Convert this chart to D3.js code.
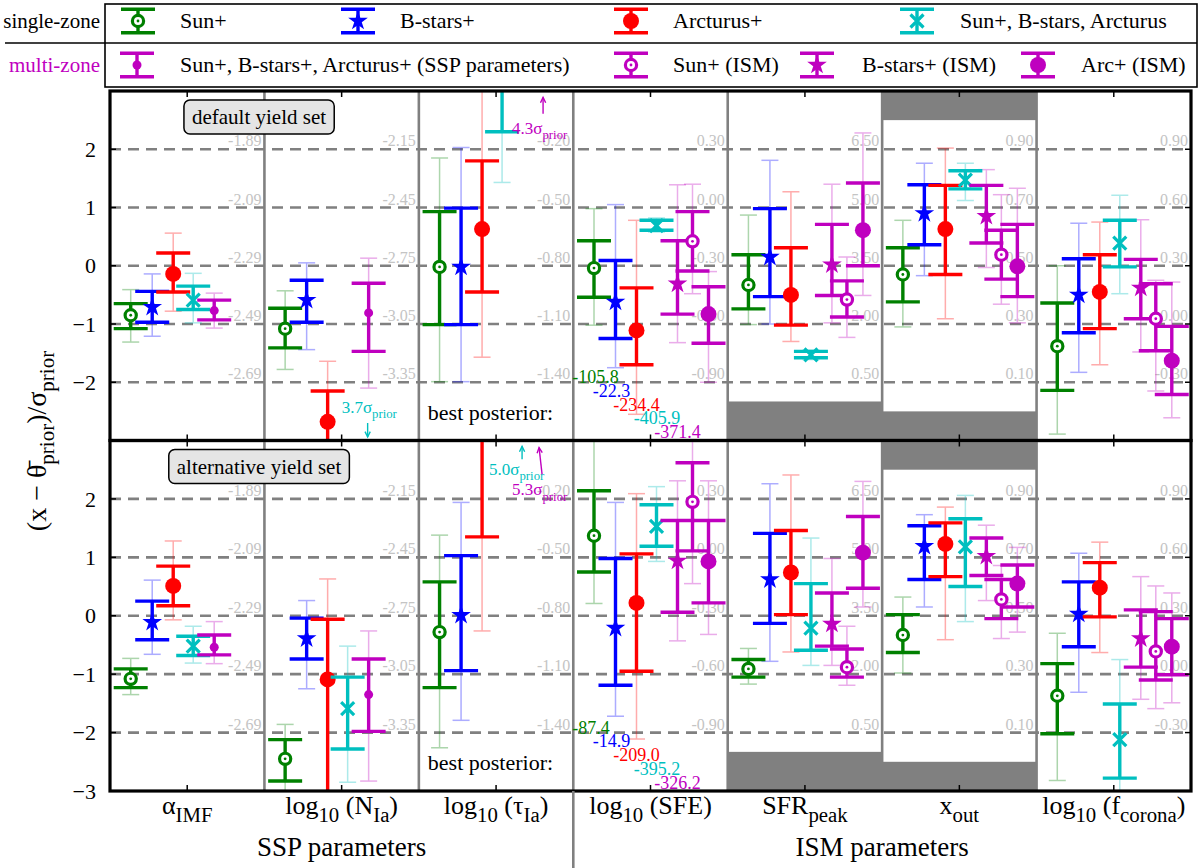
<!DOCTYPE html>
<html>
<head>
<meta charset="utf-8">
<script src="https://cdn.jsdelivr.net/npm/d3@7"></script>
<style>
  body { margin: 0; background: #fff; }
  svg, text { font-family: "Liberation Serif", "DejaVu Serif", serif; }
</style>
</head>
<body>
<script>
/* global d3 */

// Data

const params = ['alphaIMF', 'logNIa', 'logTauIa', 'logSFE', 'SFRpeak', 'xout', 'logFcorona'];

// tick labels: plain strings, [sub] arrays are subscripts
const paramLabels = [
  ['α', ['IMF']],
  ['log', ['10'], ' (N', ['Ia'], ')'],
  ['log', ['10'], ' (τ', ['Ia'], ')'],
  ['log', ['10'], ' (SFE)'],
  ['SFR', ['peak']],
  ['x', ['out']],
  ['log', ['10'], ' (f', ['corona'], ')']
];

const groupLabels = ['SSP parameters', 'ISM parameters'];
const groupStart = [0, 3];

// secondary (physical) values printed at the dashed lines 2, 1, 0, -1, -2
const gridValues = [2, 1, 0, -1, -2];
const physLabels = [
  ['-1.89', '-2.09', '-2.29', '-2.49', '-2.69'],
  ['-2.15', '-2.45', '-2.75', '-3.05', '-3.35'],
  ['-0.20', '-0.50', '-0.80', '-1.10', '-1.40'],
  ['0.30', '0.00', '-0.30', '-0.60', '-0.90'],
  ['6.50', '5.00', '3.50', '2.00', '0.50'],
  ['0.90', '0.70', '0.50', '0.30', '0.10'],
  ['0.90', '0.60', '0.30', '0.00', '-0.30']
];

// prior bounds (shaded), in units of sigma_prior
const priorBounds = [
  { param: 'SFRpeak', lo: -2.33, hi: null },
  { param: 'xout', lo: -2.5, hi: 2.5 }
];

// each entry: [median, lo68, hi68, lo95, hi95], null = not fitted / off scale
// default yield set
const sunTop = [
  [-0.85, -1.08, -0.65, -1.31, -0.41],
  [-1.08, -1.41, -0.73, -1.78, -0.43],
  [-0.02, -1.01, 0.93, -1.99, 1.85],
  [-0.04, -0.54, 0.43, -1.02, 0.98],
  [-0.33, -0.74, 0.19, -1.01, 0.87],
  [-0.15, -0.62, 0.31, -1.05, 0.78],
  [-1.38, -2.14, -0.64, -2.89, 0.00]
];
const bstarsTop = [
  [-0.71, -0.97, -0.44, -1.21, -0.14],
  [-0.59, -0.97, -0.25, -1.44, 0.05],
  [-0.02, -1.01, 0.99, -1.99, 2.03],
  [-0.62, -1.25, 0.09, -1.75, 1.05],
  [0.15, -0.53, 0.98, -1.00, 1.81],
  [0.90, 0.36, 1.39, -0.17, 1.76],
  [-0.50, -1.15, 0.12, -1.83, 0.73]
];
const arcTop = [
  [-0.14, -0.45, 0.22, -0.78, 0.56],
  [-2.68, -3.40, -2.15, -4.00, -1.64],
  [0.63, -0.45, 1.80, -1.57, 3.30],
  [-1.11, -1.70, -0.38, -2.55, 0.78],
  [-0.50, -1.02, 0.31, -1.30, 1.27],
  [0.63, -0.15, 1.38, -0.91, 2.02],
  [-0.45, -1.08, 0.19, -1.70, 0.75]
];
const comboTop = [
  [-0.59, -0.75, -0.35, -0.98, -0.13],
  null,
  [3.20, 2.30, 4.10, 1.43, 5.00],
  [0.69, 0.61, 0.78, 0.58, 0.82],
  [-1.53, -1.58, -1.47, -1.61, -1.45],
  [1.47, 1.32, 1.63, 1.12, 1.76],
  [0.39, -0.02, 0.78, -0.48, 1.21]
];
const sspMultiTop = [
  [-0.77, -0.93, -0.59, -1.07, -0.47],
  [-0.81, -1.47, -0.30, -2.10, 0.13],
  null, null, null, null, null
];
const sunIsmTop = [
  null, null, null,
  [0.42, -0.09, 0.93, -0.48, 1.40],
  [-0.58, -0.88, -0.26, -1.23, 0.15],
  [0.19, -0.23, 0.61, -0.66, 1.22],
  [-0.91, -1.46, -0.31, -2.15, -0.25]
];
const bstarsIsmTop = [
  null, null, null,
  [-0.31, -0.83, 0.43, -1.32, 1.39],
  [0.02, -0.51, 0.71, -0.98, 1.40],
  [0.85, 0.39, 1.38, -0.03, 1.65],
  [-0.38, -0.91, 0.11, -1.48, 0.79]
];
const arcIsmTop = [
  null, null, null,
  [-0.83, -1.33, -0.36, -2.00, -0.10],
  [0.61, 0.00, 1.42, -0.51, 2.28],
  [-0.01, -0.53, 0.71, -0.98, 1.33],
  [-1.63, -2.21, -1.04, -2.61, -0.28]
];

// alternative yield set
const sunBot = [
  [-1.08, -1.23, -0.91, -1.35, -0.73],
  [-2.45, -2.83, -2.12, -3.20, -1.86],
  [-0.28, -1.23, 0.58, -2.26, 1.38],
  [1.37, 0.75, 2.14, 0.21, 3.00],
  [-0.91, -1.05, -0.75, -1.17, -0.56],
  [-0.33, -0.63, 0.02, -0.98, 0.32],
  [-1.37, -2.02, -0.82, -2.82, -0.30]
];
const bstarsBot = [
  [-0.11, -0.41, 0.25, -0.66, 0.61],
  [-0.39, -0.74, -0.04, -1.25, 0.26],
  [0.01, -0.94, 1.03, -1.79, 1.94],
  [-0.21, -1.19, 0.98, -1.72, 1.94],
  [0.62, -0.13, 1.41, -0.78, 2.26],
  [1.19, 0.62, 1.54, 0.15, 1.73],
  [0.03, -0.53, 0.58, -1.31, 1.07]
];
const arcBot = [
  [0.51, 0.17, 0.85, -0.07, 1.28],
  [-1.09, -3.50, -0.06, -4.50, 0.63],
  [3.40, 1.35, 5.50, -0.26, 7.00],
  [0.22, -0.95, 1.06, -2.11, 2.09],
  [0.74, 0.02, 1.46, -0.62, 2.41],
  [1.23, 0.67, 1.59, -0.41, 1.86],
  [0.48, -0.02, 0.91, -0.63, 1.26]
];
const comboBot = [
  [-0.52, -0.68, -0.35, -0.81, -0.18],
  [-1.59, -2.28, -1.05, -2.85, -0.52],
  null,
  [1.53, 1.19, 1.90, 0.93, 2.21],
  [-0.21, -0.59, 0.55, -0.85, 1.33],
  [1.18, 0.50, 1.66, -0.10, 2.06],
  [-2.12, -2.78, -1.51, -3.30, -0.75]
];
const sspMultiBot = [
  [-0.54, -0.67, -0.33, -0.82, -0.10],
  [-1.35, -1.98, -0.74, -2.83, -0.26],
  null, null, null, null, null
];
const sunIsmBot = [
  null, null, null,
  [1.95, 1.11, 2.62, 0.55, 3.10],
  [-0.88, -1.05, -0.57, -1.19, -0.18],
  [0.28, -0.05, 0.62, -0.39, 0.86],
  [-0.61, -1.10, 0.07, -1.59, 0.51]
];
const bstarsIsmBot = [
  null, null, null,
  [0.94, 0.06, 1.63, -0.43, 2.31],
  [-0.14, -0.52, 0.39, -0.85, 0.98],
  [1.02, 0.69, 1.33, 0.26, 1.55],
  [-0.39, -0.88, 0.10, -1.43, 0.67]
];
const arcIsmBot = [
  null, null, null,
  [0.93, 0.22, 1.63, -0.32, 2.31],
  [1.08, 0.47, 1.70, 0.15, 2.30],
  [0.55, 0.15, 0.87, -0.28, 1.17],
  [-0.53, -1.01, -0.05, -1.49, 0.39]
];

// best posterior values (log), in the order sun, B-stars, Arcturus, all three, multi-zone
const bestPosteriorTop = ['-105.8', '-22.3', '-234.4', '-405.9', '-371.4'];
const bestPosteriorBot = ['-87.4', '-14.9', '-209.0', '-395.2', '-326.2'];
const bestPosteriorSeries = ['sun', 'bstars', 'arc', 'combo', 'sspMulti'];

// off-scale medians
const offScaleTop = [
  { param: 'logNIa', series: 'combo', label: '3.7' },
  { param: 'logTauIa', series: 'sspMulti', label: '4.3' }
];
const offScaleBot = [
  { param: 'logTauIa', series: 'combo', label: '5.0' },
  { param: 'logTauIa', series: 'sspMulti', label: '5.3' }
];

const panelTitles = ['default yield set', 'alternative yield set'];

// Constants

const width = 1200;
const height = 868;
const left = 110;
const right = 1191;
const panels = [{ top: 91, bottom: 440.5 }, { top: 440.5, bottom: 791 }];

const colors = {
  green: '#008000', blue: '#0000ff', red: '#ff0000', cyan: '#00bfbf', magenta: '#bf00bf'
};

// series styling and offset (px) from the column centre
const series = [
  { key: 'sun', color: colors.green, marker: 'sun', offset: -56.5, values: [sunTop, sunBot] },
  { key: 'bstars', color: colors.blue, marker: 'star', offset: -35, values: [bstarsTop, bstarsBot] },
  { key: 'arc', color: colors.red, marker: 'bigdot', offset: -14, values: [arcTop, arcBot] },
  { key: 'combo', color: colors.cyan, marker: 'x', offset: 6, values: [comboTop, comboBot] },
  { key: 'sspMulti', color: colors.magenta, marker: 'smalldot', offset: 27, values: [sspMultiTop, sspMultiBot] },
  { key: 'bstarsIsm', color: colors.magenta, marker: 'star', offset: 27, values: [bstarsIsmTop, bstarsIsmBot] },
  { key: 'sunIsm', color: colors.magenta, marker: 'sun', offset: 42, values: [sunIsmTop, sunIsmBot] },
  { key: 'arcIsm', color: colors.magenta, marker: 'bigdot', offset: 58, values: [arcIsmTop, arcIsmBot] }
];
const seriesByKey = {};
series.forEach(s => { seriesByKey[s.key] = s; });

// legend rows: entries and their x positions (marker, text)
const legendRows = [
  { label: 'single-zone', color: '#000', y: 21, items: [
    { key: 'sun', text: 'Sun+', mx: 138, tx: 180 },
    { key: 'bstars', text: 'B-stars+', mx: 358, tx: 400 },
    { key: 'arc', text: 'Arcturus+', mx: 631, tx: 673 },
    { key: 'combo', text: 'Sun+, B-stars, Arcturus', mx: 917, tx: 960 }
  ] },
  { label: 'multi-zone', color: colors.magenta, y: 65, items: [
    { key: 'sspMulti', text: 'Sun+, B-stars+, Arcturus+ (SSP parameters)', mx: 137, tx: 180 },
    { key: 'sunIsm', text: 'Sun+ (ISM)', mx: 631, tx: 673 },
    { key: 'bstarsIsm', text: 'B-stars+ (ISM)', mx: 817, tx: 862 },
    { key: 'arcIsm', text: 'Arc+ (ISM)', mx: 1038, tx: 1081 }
  ] }
];

// placement of the off-scale notes: text offset, text y, arrow x, arrow y range (sigma units)
const offScaleLayout = [
  [{ tx: 0, ty: -2.52, ax0: 26, ax1: 26, ay0: -2.70, ay1: -2.94 },
   { tx: 16, ty: 2.27, ax0: 47, ax1: 47, ay0: 2.61, ay1: 2.89 }],
  [{ tx: -7, ty: 2.41, ax0: 26, ax1: 26, ay0: 2.68, ay1: 2.90 },
   { tx: 16, ty: 2.06, ax0: 46, ax1: 43, ay0: 2.42, ay1: 2.88 }]
];

// SVG setup
const svg = d3.select('body')
.append('svg')
.attr('width', width)
.attr('height', height)
.attr('font-family', '"Liberation Serif", "DejaVu Serif", serif');

const xScale = d3.scaleBand()
.domain(params)
.range([left, right]);
const bw = xScale.bandwidth();
const colCenter = p => xScale(p) + bw / 2;

// text with subscripts, parts: 'plain' or ['sub']
function richText(sel, parts, size, subScale) {
  const shift = size * 0.3;
  let down = false;
  parts.forEach(part => {
    const sub = Array.isArray(part);
    const t = sel.append('tspan').text(sub ? part[0] : part);
    if (sub) {
      t.attr('font-size', size * subScale).attr('dy', down ? 0 : shift);
      down = true;
    } else {
      t.attr('dy', down ? -shift : 0);
      down = false;
    }
  });
  return sel;
}

function drawMarker(g, type, color, cx, cy) {
  if (type === 'sun') {
    g.append('circle').attr('cx', cx).attr('cy', cy).attr('r', 5.6)
    .attr('fill', '#fff').attr('stroke', color).attr('stroke-width', 3.2);
    g.append('circle').attr('cx', cx).attr('cy', cy).attr('r', 1.4).attr('fill', color);
  } else if (type === 'star') {
    g.append('path').attr('d', d3.symbol(d3.symbolStar, 120)())
    .attr('transform', `translate(${cx},${cy})`).attr('fill', color);
  } else if (type === 'bigdot') {
    g.append('circle').attr('cx', cx).attr('cy', cy).attr('r', 8).attr('fill', color);
  } else if (type === 'smalldot') {
    g.append('circle').attr('cx', cx).attr('cy', cy).attr('r', 4.5).attr('fill', color);
  } else if (type === 'x') {
    const s = 6.5;
    g.append('path').attr('d', `M${cx - s},${cy - s}L${cx + s},${cy + s}M${cx - s},${cy + s}L${cx + s},${cy - s}`)
    .attr('stroke', color).attr('stroke-width', 3.2).attr('fill', 'none');
  }
}

function errorBar(g, cx, yLo, yHi, half, lineWidth, color, opacity) {
  const b = g.append('g').attr('stroke', color).attr('stroke-width', lineWidth).attr('opacity', opacity);
  b.append('line').attr('x1', cx).attr('x2', cx).attr('y1', yLo).attr('y2', yHi);
  b.append('line').attr('x1', cx - half).attr('x2', cx + half).attr('y1', yLo).attr('y2', yLo);
  b.append('line').attr('x1', cx - half).attr('x2', cx + half).attr('y1', yHi).attr('y2', yHi);
}

// Panels
panels.forEach((pan, pi) => {
  const yScale = d3.scaleLinear().domain([-3, 3]).range([pan.bottom, pan.top]);
  const clipId = 'clip' + pi;
  svg.append('clipPath').attr('id', clipId)
  .append('rect')
  .attr('x', left).attr('y', pan.top)
  .attr('width', right - left).attr('height', pan.bottom - pan.top);

  const g = svg.append('g').attr('clip-path', `url(#${clipId})`);

  // shaded prior bounds
  priorBounds.forEach(b => {
    if (b.lo !== null) {
      g.append('rect').attr('x', xScale(b.param)).attr('width', bw)
      .attr('y', yScale(b.lo)).attr('height', yScale(-3) - yScale(b.lo)).attr('fill', '#808080');
    }
    if (b.hi !== null) {
      g.append('rect').attr('x', xScale(b.param)).attr('width', bw)
      .attr('y', yScale(3)).attr('height', yScale(b.hi) - yScale(3)).attr('fill', '#808080');
    }
  });

  // dashed lines
  g.selectAll('line.grid')
  .data(gridValues)
  .enter()
  .append('line')
  .attr('class', 'grid')
  .attr('x1', left).attr('x2', right)
  .attr('y1', d => yScale(d)).attr('y2', d => yScale(d))
  .attr('stroke', '#808080').attr('stroke-width', 2.6).attr('stroke-dasharray', '11,7');

  // column separators
  g.selectAll('line.sep')
  .data(params.slice(1))
  .enter()
  .append('line')
  .attr('x1', d => xScale(d)).attr('x2', d => xScale(d))
  .attr('y1', pan.top).attr('y2', pan.bottom)
  .attr('stroke', '#808080').attr('stroke-width', 2.6);

  // physical values at the dashed lines
  params.forEach((p, i) => {
    g.selectAll(null)
    .data(gridValues)
    .enter()
    .append('text')
    .attr('x', xScale(p) + bw - 3)
    .attr('y', d => yScale(d) - 3)
    .attr('text-anchor', 'end')
    .attr('font-size', 16)
    .attr('fill', '#c4c4c4')
    .text((d, j) => physLabels[i][j]);
  });

  // thin (95%) bars
  series.forEach(s => {
    s.values[pi].forEach((v, i) => {
      if (!v) return;
      const cx = colCenter(params[i]) + s.offset;
      errorBar(g, cx, yScale(v[3]), yScale(v[4]), 8.5, 1.5, s.color, 0.32);
    });
  });

  // thick (68%) bars with markers
  series.forEach(s => {
    s.values[pi].forEach((v, i) => {
      if (!v) return;
      const cx = colCenter(params[i]) + s.offset;
      errorBar(g, cx, yScale(v[1]), yScale(v[2]), 17, 3.4, s.color, 1);
      drawMarker(g, s.marker, s.color, cx, yScale(v[0]));
    });
  });

  // best posterior
  const bestVals = pi === 0 ? bestPosteriorTop : bestPosteriorBot;
  g.append('text')
  .attr('x', xScale('logTauIa') + 9)
  .attr('y', yScale(-2.64))
  .attr('font-size', 22)
  .text('best posterior:');
  g.selectAll('text.best')
  .data(bestVals)
  .enter()
  .append('text')
  .attr('x', (d, i) => xScale('logSFE') - 1 + i * 20.5)
  .attr('y', (d, i) => yScale(-2.02 - 0.235 * i))
  .attr('font-size', 18)
  .attr('fill', (d, i) => seriesByKey[bestPosteriorSeries[i]].color)
  .text(d => d);

  // off-scale notes
  const notes = pi === 0 ? offScaleTop : offScaleBot;
  notes.forEach((n, k) => {
    const lay = offScaleLayout[pi][k];
    const c = colCenter(n.param);
    const color = seriesByKey[n.series].color;
    richText(g.append('text')
    .attr('x', c + lay.tx).attr('y', yScale(lay.ty))
    .attr('font-size', 17).attr('fill', color),
    [n.label + 'σ', ['prior']], 17, 0.75);
    const x0 = c + lay.ax0;
    const x1 = c + lay.ax1;
    const y0 = yScale(lay.ay0);
    const y1 = yScale(lay.ay1);
    const ang = Math.atan2(y1 - y0, x1 - x0);
    const h = 6;
    const a = g.append('g').attr('stroke', color).attr('stroke-width', 1.4).attr('fill', 'none');
    a.append('line').attr('x1', x0).attr('y1', y0).attr('x2', x1).attr('y2', y1);
    a.append('path').attr('d',
      `M${x1 - h * Math.cos(ang - 0.45)},${y1 - h * Math.sin(ang - 0.45)}L${x1},${y1}` +
      `L${x1 - h * Math.cos(ang + 0.45)},${y1 - h * Math.sin(ang + 0.45)}`);
  });

  // title box
  const tb = svg.append('g');
  const title = tb.append('text')
  .attr('x', 259).attr('y', pan.top + 33)
  .attr('text-anchor', 'middle')
  .attr('font-size', 21)
  .text(panelTitles[pi]);
  const bb = title.node().getBBox();
  tb.insert('rect', 'text')
  .attr('x', bb.x - 8).attr('y', pan.top + 9)
  .attr('width', bb.width + 16).attr('height', 34)
  .attr('rx', 6).attr('ry', 6)
  .attr('fill', '#e5e5e5').attr('stroke', '#000').attr('stroke-width', 1.5);

  // ticks
  const yTicks = pi === 0 ? [-2, -1, 0, 1, 2] : [-3, -2, -1, 0, 1, 2];
  const tk = svg.append('g').attr('stroke', '#000').attr('stroke-width', 1.5);
  yTicks.forEach(t => {
    tk.append('line').attr('x1', left).attr('x2', left + 6).attr('y1', yScale(t)).attr('y2', yScale(t));
    tk.append('line').attr('x1', right - 6).attr('x2', right).attr('y1', yScale(t)).attr('y2', yScale(t));
  });
  params.forEach(p => {
    tk.append('line').attr('x1', colCenter(p)).attr('x2', colCenter(p)).attr('y1', pan.top).attr('y2', pan.top + 6);
    tk.append('line').attr('x1', colCenter(p)).attr('x2', colCenter(p)).attr('y1', pan.bottom - 6).attr('y2', pan.bottom);
  });
  svg.append('g')
  .selectAll('text')
  .data(yTicks)
  .enter()
  .append('text')
  .attr('x', left - 14)
  .attr('y', d => yScale(d))
  .attr('dy', '0.35em')
  .attr('text-anchor', 'end')
  .attr('font-size', 22)
  .text(d => (d < 0 ? '−' + Math.abs(d) : String(d)));

  // frame
  svg.append('rect')
  .attr('x', left).attr('y', pan.top)
  .attr('width', right - left).attr('height', pan.bottom - pan.top)
  .attr('fill', 'none').attr('stroke', '#000').attr('stroke-width', 3.2);
});

// x labels
const lastPanel = panels[panels.length - 1];
svg.append('g')
.selectAll('text')
.data(paramLabels)
.enter()
.append('text')
.attr('x', (d, i) => colCenter(params[i]))
.attr('y', lastPanel.bottom + 23)
.attr('text-anchor', 'middle')
.attr('font-size', 26)
.each(function (d) { richText(d3.select(this), d, 26, 0.8); });

// SSP / ISM groups
groupLabels.forEach((label, k) => {
  const p0 = params[groupStart[k]];
  const p1 = params[k + 1 < groupStart.length ? groupStart[k + 1] - 1 : params.length - 1];
  svg.append('text')
  .attr('x', (xScale(p0) + xScale(p1) + bw) / 2)
  .attr('y', 856)
  .attr('text-anchor', 'middle')
  .attr('font-size', 27)
  .text(label);
});
svg.append('line')
.attr('x1', xScale(params[groupStart[1]])).attr('x2', xScale(params[groupStart[1]]))
.attr('y1', lastPanel.bottom).attr('y2', height)
.attr('stroke', '#808080').attr('stroke-width', 2.6);

// y label
richText(svg.append('text')
.attr('transform', `translate(46,${(panels[0].top + lastPanel.bottom) / 2}) rotate(-90)`)
.attr('text-anchor', 'middle')
.attr('font-size', 28),
['(x − θ̄', ['prior'], ')/σ', ['prior']], 28, 0.75);

// Legend
const legend = svg.append('g');
legend.append('rect')
.attr('x', 105).attr('y', 4).attr('width', 1092).attr('height', 83)
.attr('fill', '#fff').attr('stroke', '#000').attr('stroke-width', 1.6);
legend.append('line')
.attr('x1', 5).attr('x2', 1197).attr('y1', 43).attr('y2', 43)
.attr('stroke', '#000').attr('stroke-width', 1.6);

legendRows.forEach(row => {
  legend.append('text')
  .attr('x', 100).attr('y', row.y + 7)
  .attr('text-anchor', 'end')
  .attr('font-size', 21)
  .attr('fill', row.color)
  .text(row.label);
  row.items.forEach(it => {
    const s = seriesByKey[it.key];
    errorBar(legend, it.mx, row.y - 11.7, row.y + 11.7, 17, 3.4, s.color, 1);
    drawMarker(legend, s.marker, s.color, it.mx, row.y);
    legend.append('text')
    .attr('x', it.tx).attr('y', row.y + 7)
    .attr('font-size', 22)
    .text(it.text);
  });
});
</script>
</body>
</html>
